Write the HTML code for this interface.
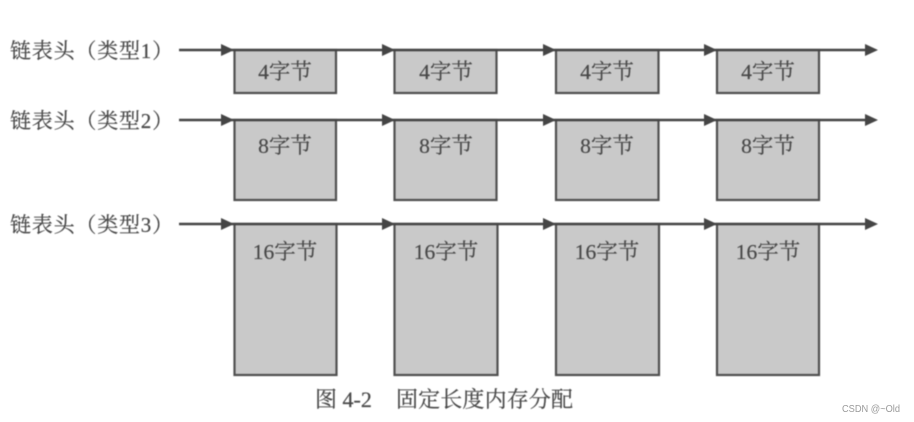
<!DOCTYPE html>
<html>
<head>
<meta charset="utf-8">
<style>
html,body{margin:0;padding:0;background:#fff;width:914px;height:422px;overflow:hidden}
svg{display:block}
text{font-family:"Liberation Serif","Noto Serif CJK SC",serif;fill:#484848;stroke:#484848;stroke-width:.2px}
.l{font-size:21px;letter-spacing:.8px}
.b{font-size:21.500px;text-anchor:middle}
.c{font-size:22px}
.w{font-family:"Liberation Sans",sans-serif;font-size:10px;fill:#9a9a9a;stroke:none}
rect{fill:#c9c9c9;stroke:#505050;stroke-width:2.200}
line{stroke:#454545;stroke-width:2.400}
polygon{fill:#454545}
</style>
</head>
<body>
<svg width="914" height="422" viewBox="0 0 914 422" xmlns="http://www.w3.org/2000/svg">
<g style="filter:blur(.4px)">
<!-- boxes row 1 -->
<rect x="234.500" y="50" width="101.500" height="43"/>
<rect x="394.500" y="50" width="102" height="43"/>
<rect x="556" y="50" width="102.500" height="43"/>
<rect x="717" y="50" width="102" height="43"/>
<!-- boxes row 2 -->
<rect x="234.500" y="120" width="101.500" height="80"/>
<rect x="394.500" y="120" width="102" height="80"/>
<rect x="556" y="120" width="102.500" height="80"/>
<rect x="717" y="120" width="102" height="80"/>
<!-- boxes row 3 -->
<rect x="234.500" y="224" width="102" height="151"/>
<rect x="394.500" y="224" width="103" height="151"/>
<rect x="556" y="224" width="103" height="151"/>
<rect x="717" y="224" width="102" height="151"/>
<!-- lines -->
<line x1="179" y1="50" x2="868" y2="50"/>
<line x1="179" y1="120" x2="868" y2="120"/>
<line x1="179" y1="224" x2="868" y2="224"/>
<!-- arrowheads -->
<polygon points="221,44 234,50 221,56"/><polygon points="382,44 395,50 382,56"/><polygon points="543,44 556,50 543,56"/><polygon points="704,44 717,50 704,56"/><polygon points="865,44 878,50 865,56"/>
<polygon points="221,114 234,120 221,126"/><polygon points="382,114 395,120 382,126"/><polygon points="543,114 556,120 543,126"/><polygon points="704,114 717,120 704,126"/><polygon points="865,114 878,120 865,126"/>
<polygon points="221,218 234,224 221,230"/><polygon points="382,218 395,224 382,230"/><polygon points="543,218 556,224 543,230"/><polygon points="704,218 717,224 704,230"/><polygon points="865,218 878,224 865,230"/>
<!-- left labels -->
<text class="l" x="10" y="58">链表头（类型1）</text>
<text class="l" x="10" y="128">链表头（类型2）</text>
<text class="l" x="10" y="232">链表头（类型3）</text>
<!-- box labels -->
<text class="b" x="285" y="79">4字节</text>
<text class="b" x="446" y="79">4字节</text>
<text class="b" x="607" y="79">4字节</text>
<text class="b" x="768" y="79">4字节</text>
<text class="b" x="285" y="153">8字节</text>
<text class="b" x="446" y="153">8字节</text>
<text class="b" x="607" y="153">8字节</text>
<text class="b" x="768" y="153">8字节</text>
<text class="b" x="285" y="259">16字节</text>
<text class="b" x="446" y="259">16字节</text>
<text class="b" x="607" y="259">16字节</text>
<text class="b" x="768" y="259">16字节</text>
<!-- caption -->
<text class="c" x="315" y="407">图 4-2</text>
<text class="c" x="396" y="407" textLength="177" lengthAdjust="spacing">固定长度内存分配</text>
</g>
<text class="w" x="842" y="412" textLength="58" lengthAdjust="spacingAndGlyphs">CSDN @~Old</text>
</svg>
</body>
</html>
